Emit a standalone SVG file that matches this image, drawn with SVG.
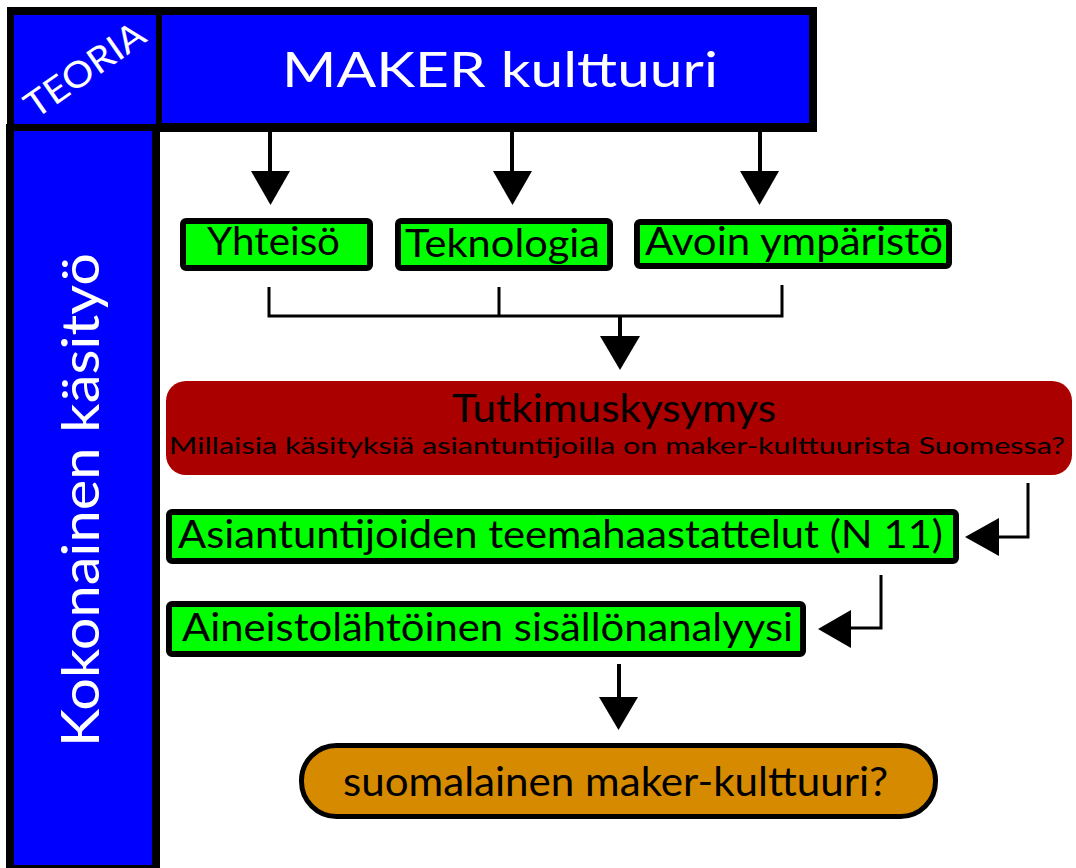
<svg xmlns="http://www.w3.org/2000/svg" width="1076" height="868" viewBox="0 0 1076 868">
<style>
  text { font-family: Lato, "Noto Sans", sans-serif; }
  .blue { fill: #0000ff; }
  .frame { fill: #000000; }
  .wt { fill: #ffffff; }
  .bt { fill: #000000; }
  .green { fill: #00ff00; stroke: #000000; stroke-width: 6; }
  .red { fill: #aa0000; }
  .orange { fill: #d68a00; stroke: #000000; stroke-width: 5; }
  .shaft { stroke: #000000; stroke-width: 4; fill: none; }
  .thin { stroke: #000000; stroke-width: 3; fill: none; }
  .head { fill: #000000; }
</style>
<rect width="1076" height="868" fill="#ffffff"/>
<g id="frame">
  <rect class="frame" x="7" y="7" width="810" height="125"/>
  <rect class="frame" x="6" y="124" width="154" height="744"/>
</g>
<g id="teoria">
  <rect class="blue" x="14" y="15" width="142" height="109"/>
  <text class="wt" transform="translate(92,80) rotate(-35)" x="0" y="0" text-anchor="middle" font-size="36" textLength="138" lengthAdjust="spacingAndGlyphs">TEORIA</text>
</g>
<g id="maker">
  <rect class="blue" x="162" y="15" width="647" height="108"/>
  <text class="wt" x="282" y="87" font-size="49" textLength="436" lengthAdjust="spacingAndGlyphs">MAKER kulttuuri</text>
</g>
<g id="kokonainen">
  <rect class="blue" x="14" y="131" width="138" height="734"/>
  <text class="wt" transform="translate(99,500) rotate(-90)" x="0" y="0" text-anchor="middle" font-size="52" textLength="494" lengthAdjust="spacingAndGlyphs">Kokonainen käsityö</text>
</g>
<g id="connectors">
  <line class="shaft" x1="270" y1="131" x2="270" y2="172"/>
  <polygon class="head" points="251,171 290,171 270.5,205"/>
  <line class="shaft" x1="512" y1="131" x2="512" y2="172"/>
  <polygon class="head" points="493,171 532,171 512.5,205"/>
  <line class="shaft" x1="760" y1="131" x2="760" y2="172"/>
  <polygon class="head" points="740,171 779,171 759.5,205"/>
  <polyline class="thin" points="269,287 269,316 782,316 782,285"/>
  <line class="thin" x1="499" y1="287" x2="499" y2="316"/>
  <line class="shaft" x1="620" y1="316" x2="620" y2="337"/>
  <polygon class="head" points="600,336 640,336 620,370"/>
  <polyline class="thin" points="1028,483 1028,537 996,537"/>
  <polygon class="head" points="965,537 999,518 999,556"/>
  <polyline class="thin" points="881,575 881,628 849,628"/>
  <polygon class="head" points="818,629 851,610 851,648"/>
  <line class="shaft" x1="619" y1="664" x2="619" y2="698"/>
  <polygon class="head" points="599,697 638,697 618.5,730"/>
</g>
<g id="yhteiso">
  <rect class="green" x="183" y="221" width="187" height="47" rx="3"/>
  <text class="bt" x="207" y="255" font-size="39" textLength="133" lengthAdjust="spacingAndGlyphs">Yhteisö</text>
</g>
<g id="teknologia">
  <rect class="green" x="398" y="221" width="212" height="47" rx="3"/>
  <text class="bt" x="405" y="257" font-size="39" textLength="195" lengthAdjust="spacingAndGlyphs">Teknologia</text>
</g>
<g id="avoin">
  <rect class="green" x="637" y="222" width="312" height="44" rx="3"/>
  <text class="bt" x="645" y="255" font-size="39" textLength="298" lengthAdjust="spacingAndGlyphs">Avoin ympäristö</text>
</g>
<g id="tutkimuskysymys">
  <rect class="red" x="166" y="381" width="906" height="94" rx="20"/>
  <text class="bt" x="452" y="422" font-size="38" textLength="324" lengthAdjust="spacingAndGlyphs">Tutkimuskysymys</text>
  <text class="bt" x="169" y="454" font-size="24" textLength="896" lengthAdjust="spacingAndGlyphs">Millaisia käsityksiä asiantuntijoilla on maker-kulttuurista Suomessa?</text>
</g>
<g id="haastattelut">
  <rect class="green" x="169" y="512" width="787" height="49" rx="3"/>
  <text class="bt" x="178" y="548" font-size="38" textLength="765" lengthAdjust="spacingAndGlyphs">Asiantuntijoiden teemahaastattelut (N 11)</text>
</g>
<g id="analyysi">
  <rect class="green" x="169" y="604" width="634" height="50" rx="3"/>
  <text class="bt" x="182" y="641" font-size="38" textLength="611" lengthAdjust="spacingAndGlyphs">Aineistolähtöinen sisällönanalyysi</text>
</g>
<g id="suomalainen">
  <rect class="orange" x="301.5" y="745.5" width="634" height="71" rx="35"/>
  <text class="bt" x="343" y="796" font-size="40" textLength="545" lengthAdjust="spacingAndGlyphs">suomalainen maker-kulttuuri?</text>
</g>
</svg>
